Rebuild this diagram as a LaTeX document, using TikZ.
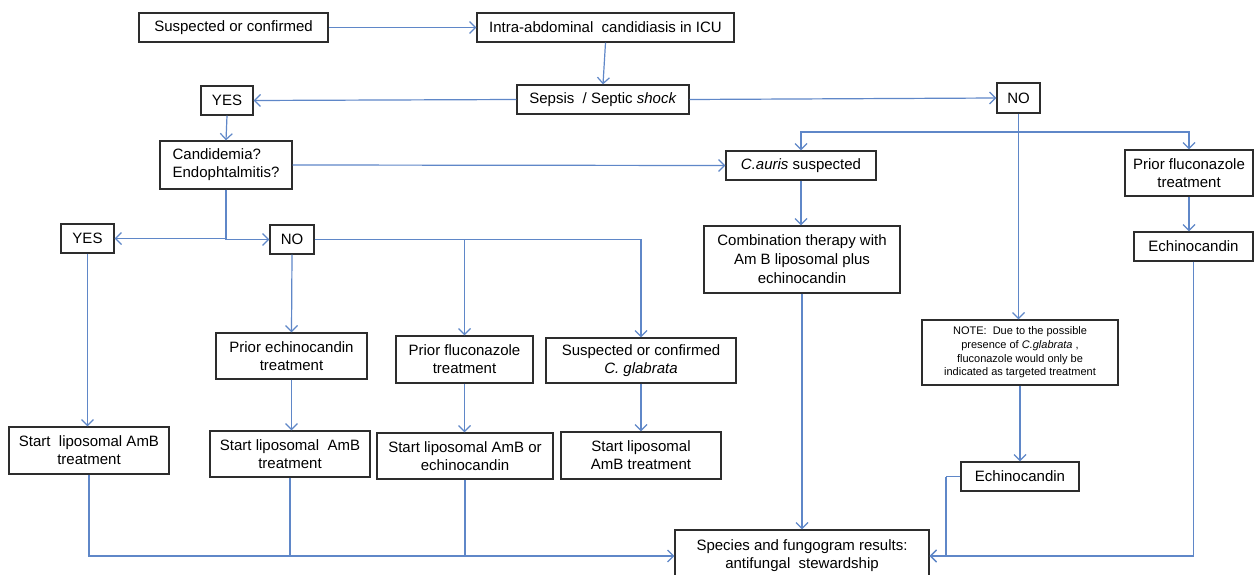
\documentclass[tikz,border=0pt]{standalone}
\usepackage{fontspec}
\setmainfont{Liberation Sans}
\usetikzlibrary{arrows.meta}
\definecolor{lnblue}{RGB}{95,135,200}
\definecolor{bxgray}{RGB}{45,45,45}
\begin{document}
\begin{tikzpicture}[x=1pt,y=-1pt,
  box/.style={draw=bxgray,line width=1.3pt,fill=white,align=center,inner sep=0pt,
    font=\fontsize{15}{18}\selectfont},
  smallbox/.style={box,font=\fontsize{11}{13.7}\selectfont},
  conn/.style={draw=lnblue,line width=1.2pt},
  arr/.style={conn,-{Straight Barb[length=6pt,width=12pt]}}]
\useasboundingbox (0,0) rectangle (1255,575);
\clip (0,0) rectangle (1255,575);
\fill[white] (0,0) rectangle (1255,575);
% nodes
\node[box,minimum width=189,minimum height=29] (s1) at (233.5,27.5) {Suspected or confirmed};
\node[box,minimum width=257,minimum height=29] (iac) at (605.5,27.5) {Intra-abdominal\ \ candidiasis in ICU};
\node[box,minimum width=172,minimum height=29] (sep) at (603,99.5) {Sepsis\ \ / Septic \textit{shock}};
\node[box,minimum width=52,minimum height=29] (yes1) at (227,100.5) {YES};
\node[box,minimum width=43,minimum height=30] (no1) at (1018.5,98) {NO};
\node[box,minimum width=132,minimum height=48,align=left] (cand) at (226,165) {Candidemia?\\Endophtalmitis?};
\node[box,minimum width=150,minimum height=29] (caur) at (801,165.5) {\textit{C.auris} suspected};
\node[box,minimum width=128,minimum height=46] (pfr) at (1189,173) {Prior fluconazole\\treatment};
\node[box,minimum width=119,minimum height=29] (echr) at (1193.5,246.5) {Echinocandin};
\node[box,minimum width=196,minimum height=67,font=\fontsize{15}{19}\selectfont] (comb) at (802,259.5) {Combination therapy with\\Am B liposomal plus\\echinocandin};
\node[box,minimum width=53,minimum height=29] (yes2) at (87.5,238.5) {YES};
\node[box,minimum width=44,minimum height=29] (no2) at (292,239.5) {NO};
\node[box,minimum width=151,minimum height=46] (pec) at (291.5,356) {Prior echinocandin\\treatment};
\node[box,minimum width=137,minimum height=47] (pfm) at (464.5,359.5) {Prior fluconazole\\treatment};
\node[box,minimum width=190,minimum height=45] (glab) at (641,360.5) {Suspected or confirmed\\\textit{C. glabrata}};
\node[smallbox,minimum width=196,minimum height=65] (note) at (1020,352.5) {NOTE:\ \ Due to the possible\\presence of \textit{C.glabrata} ,\\fluconazole would only be\\indicated as targeted treatment};
\node[box,minimum width=160,minimum height=47] (st1) at (89,450.5) {Start\ \ liposomal AmB\\treatment};
\node[box,minimum width=160,minimum height=46] (st2) at (290,454) {Start liposomal\ \ AmB\\treatment};
\node[box,minimum width=176,minimum height=46] (st3) at (465,456) {Start liposomal AmB or\\echinocandin};
\node[box,minimum width=160,minimum height=47] (st4) at (641,455.5) {Start liposomal\\AmB treatment};
\node[box,minimum width=118,minimum height=29] (echb) at (1020,476.5) {Echinocandin};
\node[box,minimum width=254,minimum height=52] (spec) at (802,556) {Species and fungogram results:\\antifungal\ \ stewardship};
% helper coordinates
\coordinate (nob) at (1018.5,132);
\coordinate (echbL) at (946,476.5);
% connectors
\draw[arr] (s1.east) -- (iac.west);
\draw[arr] (iac.south) -- (sep.north);
\draw[arr] (sep.west) -- (yes1.east);
\draw[arr] (sep.east) -- (no1.west);
\draw[arr] (yes1.south) -- (cand.north);
\draw[arr] (cand.east) -- (caur.west);
\draw[arr] (cand.south) |- (yes2.east);
\draw[arr] (cand.south) |- (no2.west);
\draw[arr] (no2.south) -- (pec.north);
\draw[arr] (no2.east) -| (pfm.north);
\draw[arr] (no2.east) -| (glab.north);
\draw[arr] (yes2.south) -- (yes2.south |- st1.north);
\draw[arr] (pec.south) -- (pec.south |- st2.north);
\draw[arr] (pfm.south) -- (pfm.south |- st3.north);
\draw[arr] (glab.south) -- (glab.south |- st4.north);
\draw[arr] (no1.south) -- (no1.south |- note.north);
\draw[arr] (nob) -| (caur.north);
\draw[arr] (nob) -| (pfr.north);
\draw[arr] (caur.south) -- (caur.south |- comb.north);
\draw[arr] (pfr.south) -- (pfr.south |- echr.north);
\draw[arr] (note.south) -- (echb.north);
\draw[arr] (comb.south) -- (comb.south |- spec.north);
\draw[arr] (st1.south) |- (spec.west);
\draw[conn] (st2.south) -- (st2.south |- spec.west);
\draw[conn] (st3.south) -- (st3.south |- spec.west);
\draw[arr] (echr.south) |- (spec.east);
\draw[conn] (echb.west) -- (echbL);
\draw[arr] (echbL) |- (spec.east);
\end{tikzpicture}
\end{document}
